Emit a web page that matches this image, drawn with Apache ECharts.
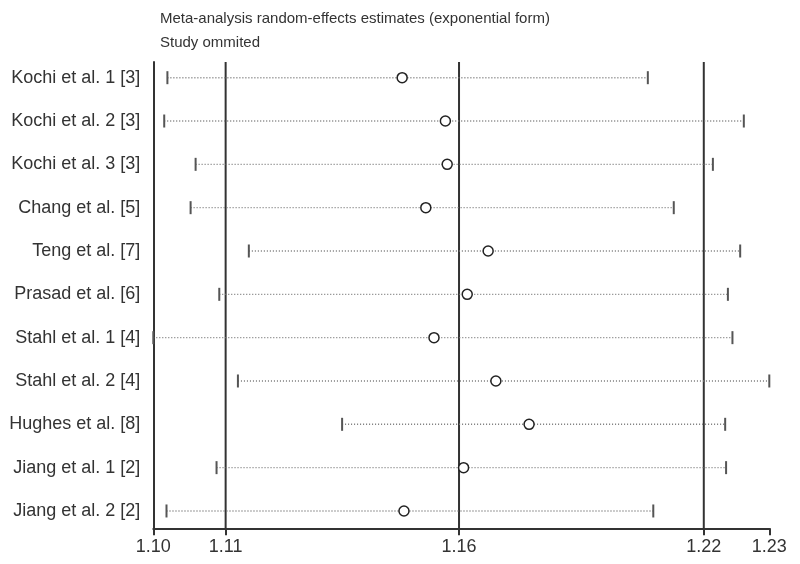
<!DOCTYPE html>
<html>
<head>
<meta charset="utf-8">
<script src="https://cdn.jsdelivr.net/npm/echarts@6/dist/echarts.min.js"></script>
<style>html,body{margin:0;padding:0;background:#fff}#chart{width:800px;height:564px}</style>
</head>
<body>
<div id="chart"></div>
<script>
// Studies (top to bottom)
const studies = [
  'Kochi et al. 1 [3]', 'Kochi et al. 2 [3]', 'Kochi et al. 3 [3]', 'Chang et al. [5]',
  'Teng et al. [7]', 'Prasad et al. [6]', 'Stahl et al. 1 [4]', 'Stahl et al. 2 [4]',
  'Hughes et al. [8]', 'Jiang et al. 1 [2]', 'Jiang et al. 2 [2]'
];
// Estimates with the study omitted (exponential form)
const estimate = [1.1502, 1.1597, 1.1601, 1.1554, 1.1691, 1.1645, 1.1572, 1.1708, 1.1781, 1.1637, 1.1506];
const lowerCI  = [1.0986, 1.0979, 1.1048, 1.1037, 1.1165, 1.1100, 1.0955, 1.1141, 1.1370, 1.1094, 1.0984];
const upperCI  = [1.2042, 1.2253, 1.2185, 1.2099, 1.2245, 1.2218, 1.2228, 1.2309, 1.2212, 1.2214, 1.2054];
// Axis ticks: min, overall lower CI, overall estimate, overall upper CI, max
const tickValues = [1.0955, 1.1114, 1.1627, 1.2165, 1.2309];
const tickLabels = ['1.10', '1.11', '1.16', '1.22', '1.23'];
// Overall estimate and its confidence bounds (reference lines)
const overallLines = [tickValues[1], tickValues[2], tickValues[3]];
const rowIndex = studies.map((s, i) => i + 1);

const FONT = "'Liberation Sans', Arial, sans-serif";
const chart = echarts.init(document.getElementById('chart'));

const ciData = studies.map((s, i) => [rowIndex[i], lowerCI[i], upperCI[i]]);
const estData = studies.map((s, i) => [estimate[i], rowIndex[i]]);
const refData = overallLines.map(v => [v, 1]);

chart.setOption({
  animation: false,
  backgroundColor: '#fff',
  textStyle: { fontFamily: FONT },
  title: {
    text: 'Meta-analysis random-effects estimates (exponential form)\nStudy ommited',
    left: 155, top: 2,
    textStyle: { fontFamily: FONT, fontSize: 15, fontWeight: 'normal', lineHeight: 24, color: '#333' }
  },
  grid: { left: 153.3, right: 30.7, top: 62, bottom: 35.7, containLabel: false },
  xAxis: {
    type: 'value',
    min: tickValues[0], max: tickValues[tickValues.length - 1],
    splitLine: { show: false },
    axisLine: { show: true, lineStyle: { color: '#333', width: 2 } },
    axisTick: { show: true, customValues: tickValues, length: 7, lineStyle: { color: '#333', width: 2 } },
    axisLabel: {
      customValues: tickValues, showMinLabel: true, showMaxLabel: true,
      margin: 10, fontSize: 18, color: '#333', fontFamily: FONT,
      formatter: v => {
        const idx = tickValues.findIndex(t => Math.abs(t - v) < 1e-6);
        return idx >= 0 ? tickLabels[idx] : '';
      }
    }
  },
  yAxis: {
    type: 'value', inverse: true, min: 0.638, max: 11.4,
    splitLine: { show: false },
    axisLine: { show: true, lineStyle: { color: '#333', width: 2 } },
    axisTick: { show: false },
    axisLabel: {
      customValues: rowIndex, margin: 13, fontSize: 18, color: '#333', fontFamily: FONT,
      formatter: v => studies[Math.round(v) - 1] || ''
    }
  },
  series: [
    {
      type: 'custom',
      data: refData,
      encode: { x: 0, y: 1 },
      silent: true,
      renderItem: function (params, api) {
        const cs = params.coordSys;
        const p = api.coord([api.value(0), api.value(1)]);
        return {
          type: 'line',
          shape: { x1: p[0], y1: cs.y, x2: p[0], y2: cs.y + cs.height },
          style: { stroke: '#333', lineWidth: 2 }
        };
      },
      z: 1
    },
    {
      type: 'custom',
      data: ciData,
      encode: { x: [1, 2], y: 0 },
      renderItem: function (params, api) {
        const row = api.value(0);
        const p1 = api.coord([api.value(1), row]);
        const p2 = api.coord([api.value(2), row]);
        return {
          type: 'group',
          children: [
            { type: 'line', shape: { x1: p1[0], y1: p1[1], x2: p2[0], y2: p2[1] },
              style: { stroke: '#777', lineWidth: 1.4, lineDash: [1, 2] } },
            { type: 'line', shape: { x1: p1[0], y1: p1[1] - 6.5, x2: p1[0], y2: p1[1] + 6.5 },
              style: { stroke: '#555', lineWidth: 2 } },
            { type: 'line', shape: { x1: p2[0], y1: p2[1] - 6.5, x2: p2[0], y2: p2[1] + 6.5 },
              style: { stroke: '#555', lineWidth: 2 } }
          ]
        };
      },
      z: 2
    },
    {
      type: 'scatter',
      data: estData,
      symbol: 'circle',
      symbolSize: 10,
      itemStyle: { color: '#fff', borderColor: '#222', borderWidth: 1.5, opacity: 1 },
      z: 4
    }
  ]
});
</script>
</body>
</html>
